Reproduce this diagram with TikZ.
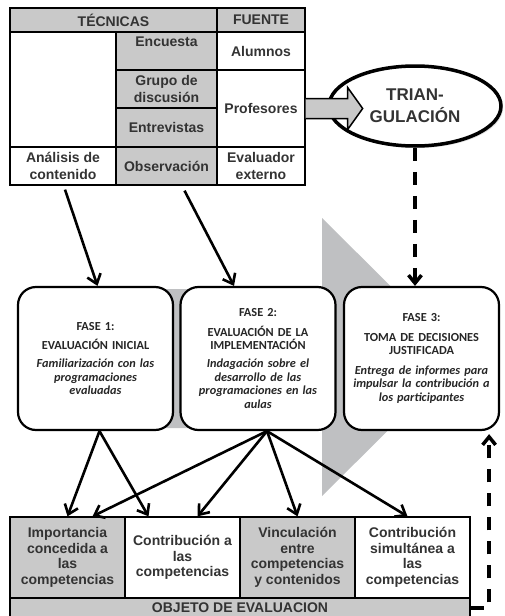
\documentclass[tikz,border=0pt]{standalone}
\usepackage{fontspec}
\setmainfont{Liberation Sans}
\newfontfamily\calibri{Carlito}
\usetikzlibrary{positioning,calc,arrows.meta,shapes,shadows}

\definecolor{celdagris}{HTML}{C9C9C9}
\definecolor{fondogris}{HTML}{BFC0C2}

\tikzset{
	celda/.style={draw, line width=1.3pt, inner sep=0pt, align=center, text=black!80,
		font=\bfseries\fontsize{14}{17.5}\selectfont},
	objeto/.style={celda, minimum width=115pt, minimum height=81pt,
		font=\bfseries\fontsize{14}{15.5}\selectfont},
	fase/.style={draw, line width=2.2pt, rounded corners=18pt, fill=white, text=black!85,
		minimum width=155pt, minimum height=143pt, text width=148pt, align=center,
		inner sep=0pt, font=\calibri\bfseries\fontsize{12.3}{13.5}\selectfont},
	flecha/.style={line width=2.6pt, -{Straight Barb[length=9pt,width=14pt]}},
	punteada/.style={line width=3.5pt, dash pattern=on 13pt off 11pt,
		-{Straight Barb[length=8pt,width=13pt]}},
}

\begin{document}
\begin{tikzpicture}[x=1pt,y=-1pt]
	\useasboundingbox (0,0) rectangle (504,616);

	% fondo: flecha gris
	\fill[fondogris] (90,289) -- (322,289) -- (322,218) -- (462,357) -- (322,496)
		-- (322,428) -- (90,428) -- cycle;

	% tabla de tecnicas y fuentes
	\node[celda, fill=celdagris, minimum width=207pt, minimum height=24pt] (tecnicas) at (113.5,20) {TÉCNICAS};
	\node[celda, fill=celdagris, minimum width=88pt, minimum height=24pt] (fuente) at (261,20) {FUENTE};
	\node[celda, minimum width=106pt, minimum height=115pt] (vacia) at (63,89.5) {};
	\node[celda, fill=celdagris, minimum width=101pt, minimum height=38pt] (encuesta) at (166.5,51) {};
	\node[celda, draw=none] (encuestaT) at (166.5,42) {Encuesta};
	\node[celda, minimum width=88pt, minimum height=38pt] (alumnos) at (261,51) {Alumnos};
	\node[celda, fill=celdagris, minimum width=101pt, minimum height=38pt] (grupo) at (166.5,89) {Grupo de\\discusión};
	\node[celda, fill=celdagris, minimum width=101pt, minimum height=39pt] (entrevistas) at (166.5,127.5) {Entrevistas};
	\node[celda, minimum width=88pt, minimum height=77pt] (profesores) at (261,108.5) {Profesores};
	\node[celda, minimum width=106pt, minimum height=38pt] (analisis) at (63,166) {Análisis de\\contenido};
	\node[celda, fill=celdagris, minimum width=101pt, minimum height=38pt] (observacion) at (166.5,166) {Observación};
	\node[celda, minimum width=88pt, minimum height=38pt] (evaluador) at (261,166) {Evaluador\\externo};

	% triangulacion
	\node[draw, ellipse, line width=3.5pt, fill=white, minimum width=172pt, minimum height=80pt,
		inner sep=0pt, align=center, text=black!80, font=\bfseries\fontsize{17}{22}\selectfont,
		drop shadow={shadow xshift=2pt, shadow yshift=-2pt, fill=gray!50}]
		(triangulacion) at (415,106) {TRIAN-\\GULACIÓN};
	\draw[line width=1.5pt, fill=celdagris] (profesores.east) ++(0,-10) -- ++(42,0) -- ++(0,-11)
		-- ++(15,21) -- ++(-15,21) -- ++(0,-11) -- ++(-42,0);

	% fases
	\node[fase] (f1) at (95.5,358.5) {FASE 1:\\[6pt]EVALUACIÓN INICIAL\\[4.5pt]\itshape Familiarización con las\\programaciones\\evaluadas};
	\node[fase] (f2) at (258,358.5) {FASE 2:\\[6pt]EVALUACIÓN DE LA\\IMPLEMENTACIÓN\\[4.5pt]\itshape Indagación sobre el\\desarrollo de las\\programaciones en las\\aulas};
	\node[fase] (f3) at (421.5,358.5) {FASE 3:\\[6pt]TOMA DE DECISIONES\\JUSTIFICADA\\[6pt]\itshape Entrega de informes para\\impulsar la contribución a\\los participantes};

	% objeto de evaluacion
	\node[objeto, fill=celdagris] (importancia) at (67.5,557.5) {Importancia\\concedida a\\las\\competencias};
	\node[objeto] (contribucion) at (182.5,557.5) {Contribución a\\las\\competencias};
	\node[objeto, fill=celdagris] (vinculacion) at (297.5,557.5) {Vinculación\\entre\\competencias\\y contenidos};
	\node[objeto] (simultanea) at (412.5,557.5) {Contribución\\simultánea a\\las\\competencias};
	\node[celda, fill=celdagris, minimum width=460pt, minimum height=20pt] (objeto) at (240,608) {OBJETO DE EVALUACION};

	% conexiones
	\draw[flecha] ([xshift=2pt,yshift=-4pt]analisis.south) -- ([xshift=2pt]f1.north);
	\draw[flecha] ([xshift=18pt,yshift=-5pt]observacion.south) -- ([xshift=-24pt]f2.north);
	\draw[punteada] (triangulacion.south) -- (triangulacion.south |- f3.north);
	\draw[flecha] ([xshift=4pt]f1.south) -- (importancia.north);
	\draw[flecha] ([xshift=4pt]f1.south) -- ([xshift=-34pt]contribucion.north);
	\draw[flecha] ([xshift=9pt]f2.south) -- ([xshift=25pt]importancia.north);
	\draw[flecha] ([xshift=9pt]f2.south) -- ([xshift=15pt]contribucion.north);
	\draw[flecha] ([xshift=9pt]f2.south) -- (vinculacion.north);
	\draw[flecha] ([xshift=9pt]f2.south) -- ([xshift=-5pt]simultanea.north);
	\draw[punteada] (objeto.east) -| ([xshift=-11pt,yshift=-3pt]f3.south east);
\end{tikzpicture}
\end{document}
